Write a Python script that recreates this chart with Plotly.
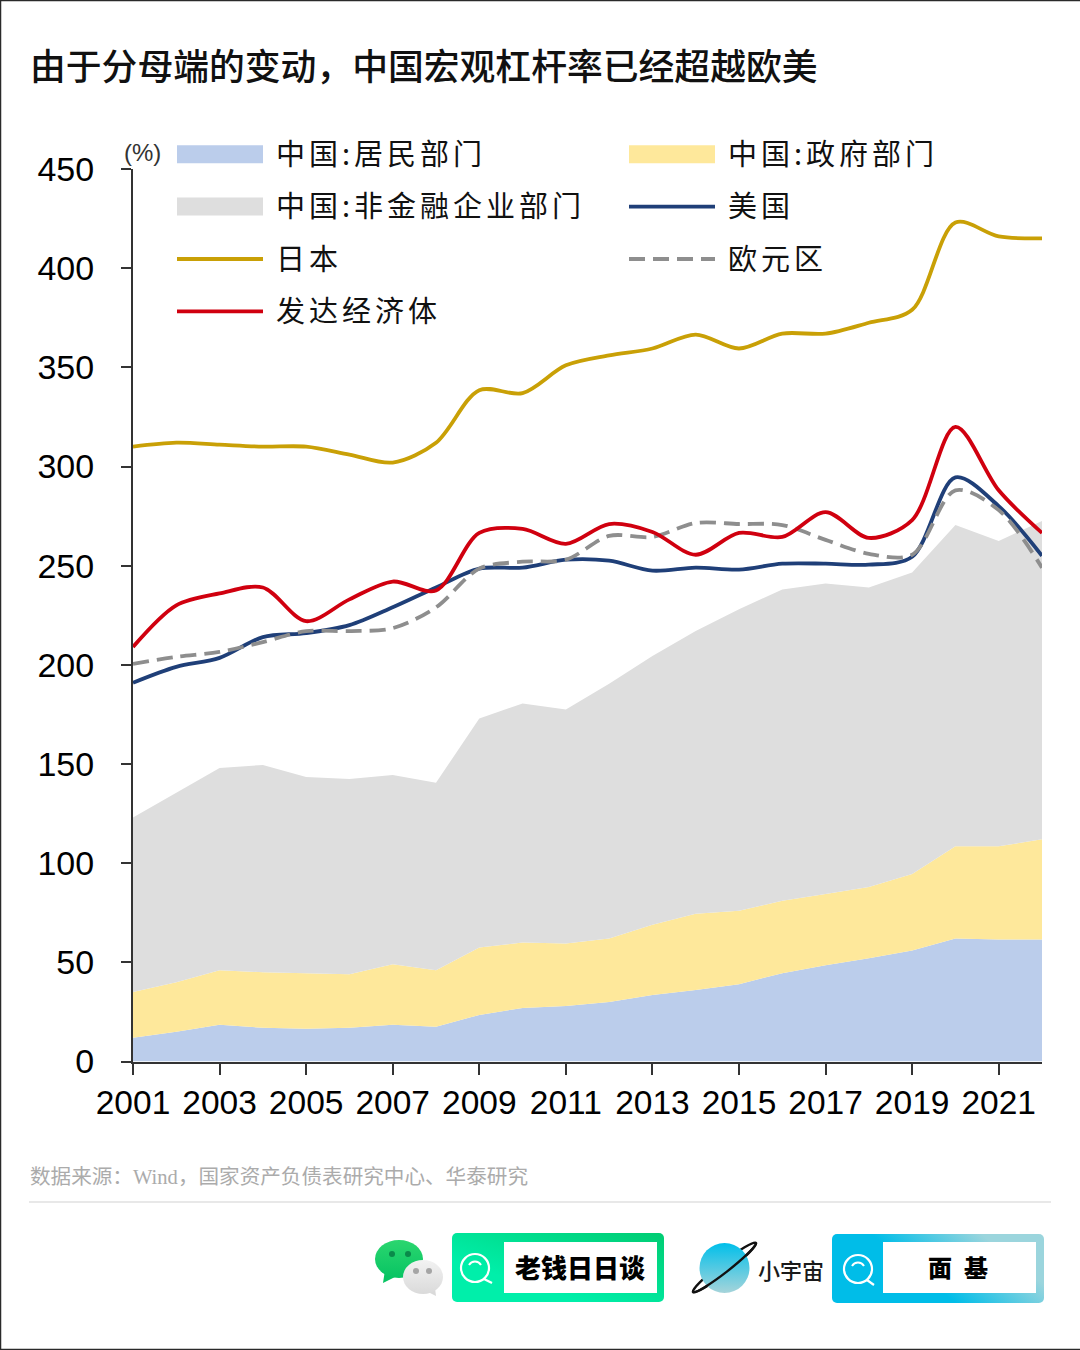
import base64
import plotly.graph_objects as go

W, H = 1080, 1350
AX_L, AX_R, AX_T, AX_B = 133, 1042, 169, 1061.5

years = list(range(2001, 2023))
household = [12, 15, 18.5, 17, 16.5, 17, 18.5, 17.5, 23.5, 27, 28, 30, 33.5, 36, 39, 44.5, 48.5, 52, 56, 62, 61.5, 61.5]
government = [23, 25, 27.5, 28, 28, 27, 30.5, 28.5, 34, 33, 31.5, 32, 35.5, 38.5, 37, 36.5, 36, 36, 38.5, 46.5, 47, 50.5]
corporate = [88, 95.5, 102, 104.5, 99, 98.5, 95.5, 94.5, 115.5, 120.5, 118, 128.5, 135.5, 142.5, 152, 157, 156.5, 151, 152, 162, 154, 160.5]
usa = [191, 199, 203.5, 214, 216, 220, 229, 239, 248.5, 249, 253, 252.5, 247.5, 249, 248, 251, 251, 250.5, 254.5, 294.5, 280, 255]
japan = [310, 312, 311, 310, 310, 306, 302, 312, 338.5, 337, 351, 356, 359.5, 366.5, 359.5, 367, 367, 372.5, 379, 423, 416, 415]
euro = [200.5, 204, 206.5, 211.5, 217, 217, 218.5, 229, 248.5, 252, 253, 265, 264.5, 271.5, 271, 270.5, 263, 256, 255.5, 288, 278, 249]
developed = [209, 230, 236, 239, 222, 233, 242, 237.5, 266.5, 268.5, 261, 271, 267, 255.5, 266.5, 264.5, 277, 264, 273, 320, 288, 266.5]

y_ticks = list(range(0, 451, 50))
x_ticks = list(range(2001, 2022, 2))

TITLE = "由于分母端的变动，中国宏观杠杆率已经超越欧美"
SOURCE = "数据来源：Wind，国家资产负债表研究中心、华泰研究"

CJK = "Noto Sans CJK SC"
LATIN = "Liberation Sans"
INK = "#333333"


def px(x):
    return x / W


def py(y):
    return 1 - y / H


fig = go.Figure()

areas = [
    ("中国:居民部门", household, "#BBCDEB"),
    ("中国:政府部门", government, "#FEE89B"),
    ("中国:非金融企业部门", corporate, "#DEDEDE"),
]
for name, vals, color in areas:
    fig.add_trace(go.Scatter(
        x=years, y=vals, name=name, mode="lines", stackgroup="china",
        line=dict(width=0, color=color), fillcolor=color, hoverinfo="skip",
    ))

lines = [
    ("美国", usa, "#1F3F78", "solid"),
    ("日本", japan, "#C9A006", "solid"),
    ("欧元区", euro, "#8E8E8E", "16px,8px"),
    ("发达经济体", developed, "#D0000F", "solid"),
]
for name, vals, color, dash in lines:
    fig.add_trace(go.Scatter(
        x=years, y=vals, name=name, mode="lines",
        line=dict(color=color, width=3.8, dash=dash, shape="spline", smoothing=0.9),
        hoverinfo="skip",
    ))

footer_svg = """<svg xmlns="http://www.w3.org/2000/svg" width="1080" height="150" viewBox="0 1200 1080 150">
<defs>
<linearGradient id="g1" x1="0" y1="1" x2="1" y2="0"><stop offset="0.3" stop-color="#00EFAA"/><stop offset="1" stop-color="#00CC72"/></linearGradient>
<linearGradient id="g2" x1="0" y1="0.7" x2="1" y2="0.3"><stop offset="0.4" stop-color="#00BDE8"/><stop offset="0.85" stop-color="#9BD5DD"/></linearGradient>
<linearGradient id="g3" x1="0" y1="0" x2="0" y2="1"><stop offset="0" stop-color="#00BFEA"/><stop offset="1" stop-color="#A6D4DA"/></linearGradient>
<linearGradient id="g4" x1="0" y1="0" x2="0" y2="1"><stop offset="0" stop-color="#2BD66F"/><stop offset="1" stop-color="#08C463"/></linearGradient>
<linearGradient id="g5" x1="0" y1="0" x2="0" y2="1"><stop offset="0" stop-color="#F2F2F2"/><stop offset="1" stop-color="#DADADA"/></linearGradient>
</defs>
<path d="M383 1283 L385 1270 L397 1276 Z" fill="#08C463"/>
<ellipse cx="399" cy="1259" rx="24" ry="19" fill="url(#g4)"/>
<circle cx="392" cy="1254" r="3" fill="#0A8A4A"/><circle cx="408" cy="1254" r="3" fill="#0A8A4A"/>
<path d="M436 1296 L435 1288 L428 1292 Z" fill="#DADADA"/>
<ellipse cx="423" cy="1277" rx="20" ry="17" fill="url(#g5)"/>
<circle cx="416" cy="1271" r="3" fill="#A5A5A5"/><circle cx="429" cy="1271" r="3" fill="#A5A5A5"/>
<rect x="452" y="1233" width="212" height="69" rx="5" fill="url(#g1)"/>
<rect x="504" y="1242" width="153" height="51" fill="#FFFFFF"/>
<circle cx="475" cy="1268" r="14" fill="none" stroke="#FFFFFF" stroke-width="2.2"/>
<path d="M484 1279 L492 1283" stroke="#FFFFFF" stroke-width="2.2" fill="none"/>
<path d="M469 1265 A7 7 0 0 1 481 1265" stroke="#FFFFFF" stroke-width="2" fill="none"/>
<ellipse cx="724.5" cy="1267.5" rx="40" ry="5" transform="rotate(-38 724.5 1267.5)" fill="none" stroke="#111111" stroke-width="2.4"/>
<circle cx="724.5" cy="1268" r="25" fill="url(#g3)"/>
<path d="M693 1292 A40 5 -38 0 0 756 1243" fill="none" stroke="#111111" stroke-width="2.4"/>
<rect x="832" y="1234" width="212" height="69" rx="5" fill="url(#g2)"/>
<rect x="883" y="1242" width="153" height="51" fill="#FFFFFF"/>
<circle cx="858" cy="1269" r="14" fill="none" stroke="#FFFFFF" stroke-width="2.2"/>
<path d="M867 1280 L874 1285" stroke="#FFFFFF" stroke-width="2.2" fill="none"/>
<path d="M852 1266 A7 7 0 0 1 864 1266" stroke="#FFFFFF" stroke-width="2" fill="none"/>
</svg>"""
footer_uri = "data:image/svg+xml;base64," + base64.b64encode(footer_svg.encode()).decode()


def note(text, x, y, size, color="#111111", family=CJK, anchor="center", weight=None):
    fig.add_annotation(
        text=text, xref="paper", yref="paper", x=px(x), y=py(y),
        xanchor=anchor, yanchor="middle", showarrow=False,
        font=dict(family=family, size=size, color=color, weight=weight),
    )


note("(%)", 142, 153, 24, color=INK, family=LATIN)
note(SOURCE, 28, 1177, 20.6, color="#ABABAB", family="Liberation Serif, " + CJK, anchor="left")
note("老钱日日谈", 580, 1266, 26, color="#000000", weight=900)
note("小宇宙", 791, 1269, 22, color="#1A1A1A", weight=500)
note("面\u2002基", 958, 1266, 24, color="#000000", weight=900)

fig.update_layout(
    width=W, height=H, autosize=False,
    margin=dict(l=0, r=0, t=0, b=0, pad=0, autoexpand=False),
    paper_bgcolor="#FFFFFF", plot_bgcolor="#FFFFFF",
    title=dict(
        text=TITLE, xref="paper", yref="paper", x=px(30), y=py(67),
        xanchor="left", yanchor="middle",
        font=dict(family=CJK, size=35.8, color="#111111", weight=500),
    ),
    xaxis=dict(
        domain=[px(AX_L), px(AX_R)], range=[2001, 2022], tickmode="array",
        tickvals=x_ticks, tickformat="d", tickangle=0, ticks="outside", ticklen=11, tickwidth=2,
        tickcolor=INK, showline=True, linecolor=INK, linewidth=2, showgrid=False,
        zeroline=False, tickfont=dict(family=LATIN, size=33.5, color="#000000"),
        ticklabelstandoff=-1,
    ),
    yaxis=dict(
        domain=[py(AX_B), py(AX_T)], range=[0, 450], tickmode="array",
        tickvals=y_ticks, ticks="outside", ticklen=10, tickwidth=2,
        tickcolor=INK, showline=True, linecolor=INK, linewidth=2, showgrid=False,
        zeroline=False, tickfont=dict(family=LATIN, size=34, color="#000000"),
        ticklabelstandoff=20,
    ),
    legend=dict(
        orientation="h", xref="paper", yref="paper", x=px(172), y=py(123),
        xanchor="left", yanchor="top", bgcolor="rgba(0,0,0,0)", borderwidth=0,
        itemwidth=86, entrywidthmode="pixels", entrywidth=351, traceorder="normal",
        font=dict(family=CJK, size=38, color="#111111"),
        itemclick=False, itemdoubleclick=False,
    ),
    images=[dict(
        source=footer_uri, xref="paper", yref="paper", x=0, y=py(1200),
        sizex=1, sizey=150 / H, xanchor="left", yanchor="top", layer="above",
        sizing="stretch",
    )],
    shapes=[
        dict(type="line", xref="paper", yref="paper", x0=px(29), x1=px(1051),
             y0=py(1202), y1=py(1202), line=dict(color="#E8E8E8", width=2)),
        dict(type="line", xref="paper", yref="paper", x0=0, x1=1,
             y0=py(0.5), y1=py(0.5), line=dict(color="#2A2A2A", width=1.5)),
        dict(type="line", xref="paper", yref="paper", x0=px(0.5), x1=px(0.5),
             y0=0, y1=1, line=dict(color="#2A2A2A", width=1.5)),
        dict(type="line", xref="paper", yref="paper", x0=0, x1=1,
             y0=py(1349.5), y1=py(1349.5), line=dict(color="#2A2A2A", width=1.5)),
    ],
)

post = """
document.body.style.margin = '0';
var st = document.createElement('style');
st.textContent = '.legendtext{font-size:29px !important;letter-spacing:4px;transform:translate(8px,-4px);}'
  + '.legendfill path{transform:translate(0,-3px) scale(1,3);}';
document.head.appendChild(st);
"""
fig.write_html("out.html", post_script=post, config=dict(displayModeBar=False))
